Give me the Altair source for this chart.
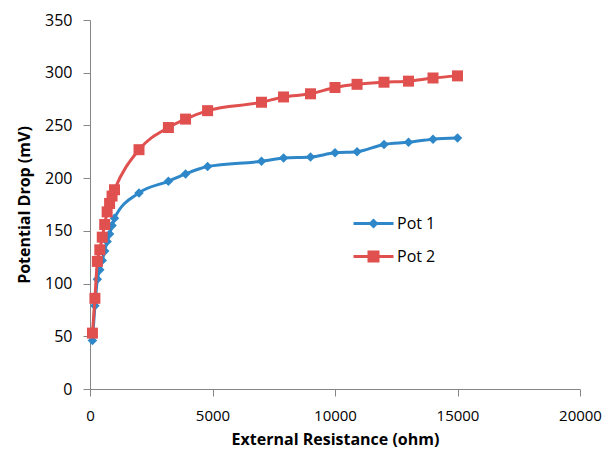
import altair as alt
import pandas as pd

# External resistance (ohm) and potential drop (mV)
resistance = [100, 200, 300, 400, 500, 600, 700, 800, 900, 1000, 2000, 3200,
              3900, 4800, 7000, 7900, 9000, 10000, 10900, 12000, 13000, 14000, 15000]
pot1 = [46, 79, 104, 113, 122, 131, 140, 147, 155, 162, 186, 197,
        204, 211, 216, 219, 220, 224, 225, 232, 234, 237, 238]
pot2 = [53, 86, 121, 132, 144, 156, 168, 176, 183, 189, 227, 248,
        256, 264, 272, 277, 280, 286, 289, 291, 292, 295, 297]

series_names = ['Pot 1', 'Pot 2']
colors = ['#2D87C8', '#E0504F']
markers = ['diamond', 'square']
marker_sizes = [90, 121]

df = pd.concat([
    pd.DataFrame({'resistance': resistance, 'drop': pot1, 'series': 'Pot 1'}),
    pd.DataFrame({'resistance': resistance, 'drop': pot2, 'series': 'Pot 2'}),
])

font = 'Open Sans'

# legend symbols: short line with the marker sitting on it
legend_paths = [
    'M-1.5,-0.11H1.5V0.11H-1.5Z M0,-0.38L0.38,0L0,0.38L-0.38,0Z',
    'M-1.5,-0.11H1.5V0.11H-1.5Z M-0.45,-0.45H0.45V0.45H-0.45Z',
]

base = alt.Chart(df).encode(
    x=alt.X('resistance:Q', scale=alt.Scale(domain=[0, 20000], nice=False),
            axis=alt.Axis(title='External Resistance (ohm)', values=[0, 5000, 10000, 15000, 20000],
                          format='d', grid=False, labelFlush=False, ticks=True, tickSize=7,
                          labelFontSize=15, labelPadding=12, titlePadding=8)),
    y=alt.Y('drop:Q', scale=alt.Scale(domain=[0, 350], nice=False),
            axis=alt.Axis(title='Potential Drop (mV)', values=list(range(0, 351, 50)), grid=False,
                          ticks=True, tickSize=7, labelPadding=11, titlePadding=12)),
)

layers = []
for name, col, mk, sz in zip(series_names, colors, markers, marker_sizes):
    one = base.transform_filter(alt.datum.series == name)
    layers.append(one.mark_line(color=col, strokeWidth=3, interpolate='monotone'))
    layers.append(one.mark_point(color=col, filled=True, opacity=1, shape=mk, size=sz))

legend = alt.Legend(title=None, orient='none', legendX=270, legendY=190, padding=0,
                    symbolSize=711, symbolOpacity=1, symbolStrokeWidth=0,
                    labelFont=font, labelFontSize=16, labelColor='#000000',
                    labelOffset=10, rowPadding=11)

# legend only: no data drawn, entries come from the fixed scale domains
legend_layer = base.transform_filter('false').mark_point(filled=True, opacity=1).encode(
    color=alt.Color('series:N', scale=alt.Scale(domain=series_names, range=colors), legend=legend),
    shape=alt.Shape('series:N', scale=alt.Scale(domain=series_names, range=legend_paths), legend=legend),
)
layers.append(legend_layer)

chart = alt.layer(*layers).properties(
    width=490, height=369,
    autosize=alt.AutoSizeParams(type='none'),
    padding={'left': 82, 'top': 12, 'right': 22, 'bottom': 63},
).configure_view(
    strokeWidth=0
).configure_axis(
    labelFont=font, labelFontSize=16, labelColor='#000000',
    titleFont=font, titleFontSize=16, titleFontWeight='bold', titleColor='#000000',
    domainColor='#868686', tickColor='#868686',
)

chart.save('out.html', embed_options={'renderer': 'svg', 'actions': False})
